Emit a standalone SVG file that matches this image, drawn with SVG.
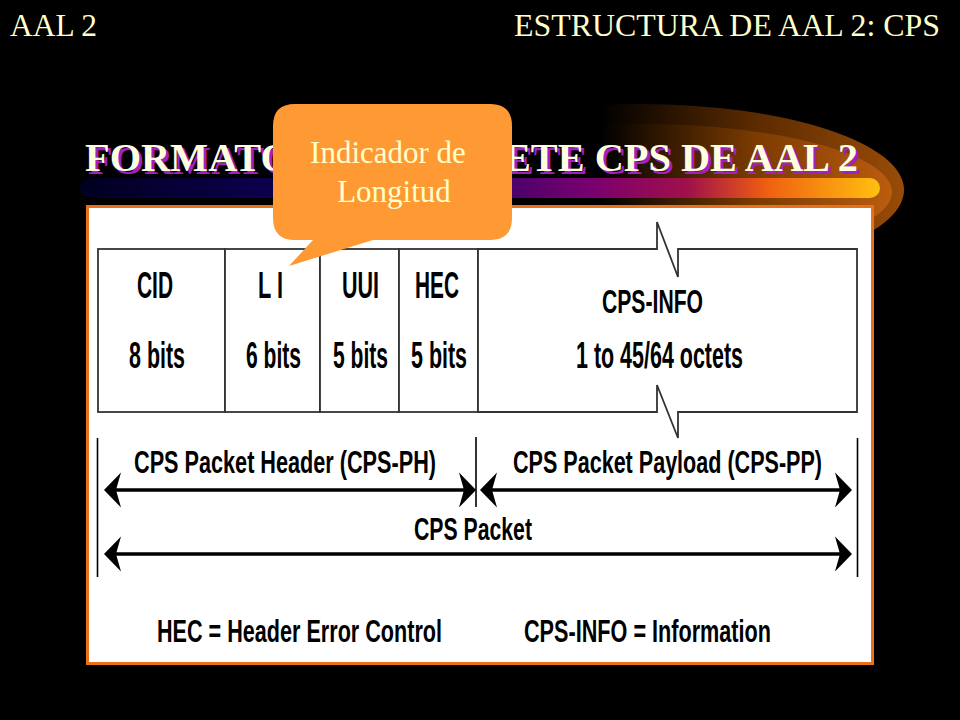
<svg xmlns="http://www.w3.org/2000/svg" width="960" height="720" viewBox="0 0 960 720">
  <defs>
    <linearGradient id="barGrad" x1="80" y1="0" x2="880" y2="0" gradientUnits="userSpaceOnUse">
      <stop offset="0" stop-color="#000020"/>
      <stop offset="0.25" stop-color="#0d0050"/>
      <stop offset="0.5" stop-color="#3a0068"/>
      <stop offset="0.64" stop-color="#7a0070"/>
      <stop offset="0.76" stop-color="#a0104a"/>
      <stop offset="0.86" stop-color="#f06010"/>
      <stop offset="1" stop-color="#ffc010"/>
    </linearGradient>
    <linearGradient id="arcOuter" x1="600" y1="0" x2="905" y2="0" gradientUnits="userSpaceOnUse">
      <stop offset="0" stop-color="#000000"/>
      <stop offset="0.5" stop-color="#5a2a00"/>
      <stop offset="1" stop-color="#9a4c08"/>
    </linearGradient>
    <linearGradient id="arcInner" x1="600" y1="0" x2="905" y2="0" gradientUnits="userSpaceOnUse">
      <stop offset="0" stop-color="#000000"/>
      <stop offset="0.5" stop-color="#7a3a00"/>
      <stop offset="1" stop-color="#c06010"/>
    </linearGradient>
    <marker id="ah" markerUnits="userSpaceOnUse" markerWidth="40" markerHeight="40" refX="13" refY="0" orient="auto-start-reverse" overflow="visible">
      <path d="M0,-17.5 L17,0 L0,17.5 L5,0 Z" fill="#000"/>
    </marker>
    <style>
      .hdr { font-family: "Liberation Serif", "Times New Roman", serif; font-size: 31px; fill: #FFFFCC; }
      .ttl { font-family: "Liberation Serif", "Times New Roman", serif; font-size: 40px; font-weight: bold; }
      .cell { fill: #FFFFFF; stroke: #333333; stroke-width: 1.8; }
      .lbl { font-family: "Liberation Sans Narrow", "Liberation Sans", Arial, sans-serif; font-weight: bold; fill: #000; }
      .big { font-size: 36px; }
      .mid { font-size: 33px; }
      .sml { font-size: 32px; }
      .vline { stroke: #000; stroke-width: 1.6; fill: none; }
      .arrow { stroke: #000; stroke-width: 3.4; fill: none; marker-start: url(#ah); marker-end: url(#ah); }
      .call { font-family: "Liberation Serif", "Times New Roman", serif; font-size: 31px; fill: #FFFFCC; text-anchor: middle; }
    </style>
  </defs>

  <rect x="0" y="0" width="960" height="720" fill="#000"/>

  <g id="header">
    <text class="hdr" x="10" y="36" textLength="87" lengthAdjust="spacingAndGlyphs">AAL 2</text>
    <text class="hdr" x="514" y="36" textLength="426" lengthAdjust="spacingAndGlyphs">ESTRUCTURA DE AAL 2: CPS</text>
  </g>

  <g id="swoosh">
    <ellipse cx="640" cy="190" rx="264" ry="86" fill="url(#arcOuter)"/>
    <ellipse cx="640" cy="192" rx="252" ry="68" fill="url(#arcInner)"/>
    <rect x="80" y="178" width="800" height="20" rx="10" fill="url(#barGrad)"/>
  </g>

  <g id="title">
    <text class="ttl" x="88" y="174" textLength="773" lengthAdjust="spacingAndGlyphs" fill="#A020C0">FORMATO DEL PAQUETE CPS DE AAL 2</text>
    <text class="ttl" x="85" y="171" textLength="773" lengthAdjust="spacingAndGlyphs" fill="#FFFFE0">FORMATO DEL PAQUETE CPS DE AAL 2</text>
  </g>

  <g id="panel">
    <rect x="87.5" y="206.5" width="785" height="457" fill="#FFFFFF" stroke="#E8701A" stroke-width="3"/>
  </g>

  <g id="cell-cid">
    <rect class="cell" x="98" y="249" width="127" height="163"/>
    <text class="lbl big" x="137" y="298" textLength="36" lengthAdjust="spacingAndGlyphs">CID</text>
    <text class="lbl big" x="129" y="368" textLength="56" lengthAdjust="spacingAndGlyphs">8 bits</text>
  </g>
  <g id="cell-li">
    <rect class="cell" x="225" y="249" width="95" height="163"/>
    <text class="lbl big" x="258" y="298" textLength="25" lengthAdjust="spacingAndGlyphs">L I</text>
    <text class="lbl big" x="246" y="368" textLength="55" lengthAdjust="spacingAndGlyphs">6 bits</text>
  </g>
  <g id="cell-uui">
    <rect class="cell" x="320" y="249" width="79" height="163"/>
    <text class="lbl big" x="342" y="298" textLength="37" lengthAdjust="spacingAndGlyphs">UUI</text>
    <text class="lbl big" x="333" y="368" textLength="55" lengthAdjust="spacingAndGlyphs">5 bits</text>
  </g>
  <g id="cell-hec">
    <rect class="cell" x="399" y="249" width="79" height="163"/>
    <text class="lbl big" x="415" y="298" textLength="44" lengthAdjust="spacingAndGlyphs">HEC</text>
    <text class="lbl big" x="411" y="368" textLength="56" lengthAdjust="spacingAndGlyphs">5 bits</text>
  </g>
  <g id="cell-cpsinfo">
    <path class="cell" d="M478,249 H657 V222 L678,277 V249 H857 V412 H678 V438 L657,385 V412 H478 Z"/>
    <text class="lbl mid" x="602" y="313" textLength="101" lengthAdjust="spacingAndGlyphs">CPS-INFO</text>
    <text class="lbl big" x="576" y="368" textLength="167" lengthAdjust="spacingAndGlyphs">1 to 45/64 octets</text>
  </g>

  <g id="connectors">
    <line class="vline" x1="97.5" y1="438" x2="97.5" y2="577"/>
    <line class="vline" x1="476" y1="437" x2="476" y2="507"/>
    <line class="vline" x1="857.5" y1="438" x2="857.5" y2="577"/>
    <line class="arrow" x1="108" y1="490" x2="472" y2="490"/>
    <line class="arrow" x1="484" y1="490" x2="848" y2="490"/>
    <line class="arrow" x1="108" y1="554" x2="848" y2="554"/>
  </g>

  <g id="label-header">
    <text class="lbl sml" x="134" y="473" textLength="302" lengthAdjust="spacingAndGlyphs">CPS Packet Header (CPS-PH)</text>
  </g>
  <g id="label-payload">
    <text class="lbl sml" x="513" y="473" textLength="309" lengthAdjust="spacingAndGlyphs">CPS Packet Payload (CPS-PP)</text>
  </g>
  <g id="label-packet">
    <text class="lbl sml" x="414" y="540" textLength="118" lengthAdjust="spacingAndGlyphs">CPS Packet</text>
  </g>
  <g id="legend">
    <text class="lbl sml" x="157" y="642" textLength="285" lengthAdjust="spacingAndGlyphs">HEC = Header Error Control</text>
    <text class="lbl sml" x="524" y="642" textLength="247" lengthAdjust="spacingAndGlyphs">CPS-INFO = Information</text>
  </g>

  <g id="callout">
    <path d="M295,104 H490 Q512,104 512,126 V218 Q512,240 490,240 H373 L289,266 L313,240 H295 Q273,240 273,218 V126 Q273,104 295,104 Z" fill="#FF9933"/>
    <text class="call" x="388" y="163">Indicador de</text>
    <text class="call" x="394" y="202">Longitud</text>
  </g>
</svg>
